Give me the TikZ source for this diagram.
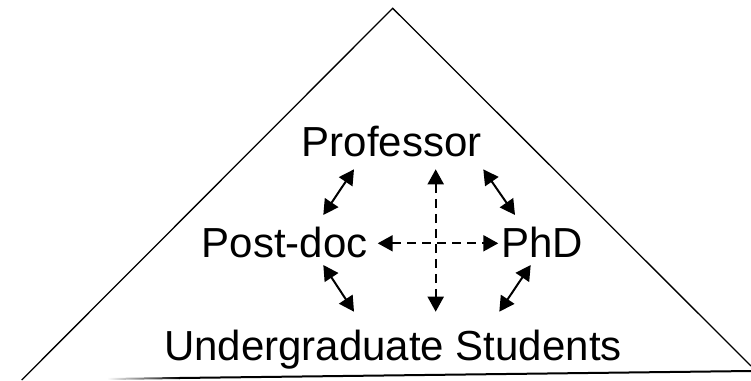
\documentclass[tikz,border=0pt]{standalone}
\usepackage{fontspec}
\setmainfont{Liberation Sans}
\usetikzlibrary{arrows.meta}
\begin{document}
\begin{tikzpicture}[x=1pt, y=-1pt,
  every node/.style={anchor=base, inner sep=0pt, font=\fontsize{42}{50}\selectfont},
  rel/.style={line width=2pt, {Triangle[length=15pt,width=16pt]}-{Triangle[length=15pt,width=16pt]}},
  peer/.style={rel, dash pattern=on 9pt off 6pt}]
  \useasboundingbox (0,0) rectangle (751,380);
  \draw [line width=1.3pt] (21.7,380) -- (392.7,8.3) -- (751,366);
  \shade [left color=white, right color=black] (107,378) -- (180,377) -- (180,379) -- (107,380) -- cycle;
  \draw [line width=2pt] (179,378) -- (751,371);
  \node (prof) at (391.7,156) {Professor};
  \node (post) at (284.7,257) {Post-doc};
  \node (phd) at (542,257) {PhD};
  \node (ug) at (393,360.7) {Undergraduate Students};
  \draw [rel] ([shift={(-37.7,13.3)}]prof.base) -- ([shift={(38.6,-42)}]post.base);
  \draw [rel] ([shift={(91.6,13.3)}]prof.base) -- ([shift={(-27,-42)}]phd.base);
  \draw [rel] ([shift={(38.6,8)}]post.base) -- ([shift={(-39,-49)}]ug.base);
  \draw [rel] ([shift={(-11.3,8)}]phd.base) -- ([shift={(106.3,-49)}]ug.base);
  \draw [peer] ([shift={(44,13.3)}]prof.base) -- ([shift={(42.7,-49)}]ug.base);
  \draw [peer] ([shift={(93,-13.7)}]post.base) -- ([shift={(-43.7,-13.7)}]phd.base);
\end{tikzpicture}
\end{document}
